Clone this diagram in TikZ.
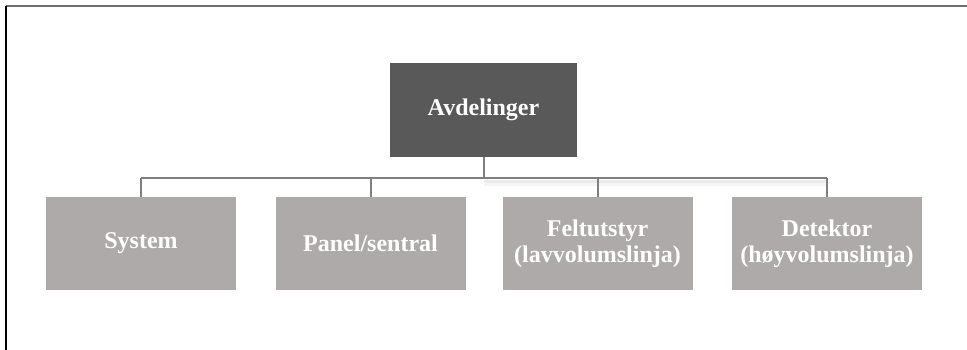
\documentclass[tikz,border=0pt]{standalone}
\usepackage{fontspec}
\setmainfont{Liberation Serif}
\definecolor{darkbox}{HTML}{595959}
\definecolor{lightbox}{HTML}{AEAAAA}
\definecolor{connc}{HTML}{7F7F7F}
\definecolor{framec}{HTML}{6E6E6E}
\begin{document}
\begin{tikzpicture}[x=1pt,y=-1pt,
  box/.style={rectangle, draw=none, inner sep=0pt, align=center,
    text=white, font=\fontsize{24}{26}\selectfont\bfseries},
  topbox/.style={box, fill=darkbox, minimum width=187pt, minimum height=94pt},
  subbox/.style={box, fill=lightbox, minimum width=190pt, minimum height=93pt},
  conn/.style={draw=connc, line width=2pt},
  shadowline/.style={line width=6pt, draw=black, opacity=0.04},
]
\useasboundingbox (0,0) rectangle (967,350);
\fill[white] (0,0) rectangle (967,350);
% frame
\draw[framec, line width=2pt] (6,6.5) -- (967,6.5);
\draw[black, line width=2pt] (6,6.5) -- (6,350);

\node[topbox] (top) at (483.5,110) {Avdelinger};
\node[subbox] (sys) at (141,243.5) {System};
\node[subbox] (pan) at (370.5,243.5) {Panel/sentral};
\node[subbox] (fel) at (597.5,243.5) {Feltutstyr\\(lavvolumslinja)};
\node[subbox] (det) at (827,243.5) {Detektor\\(høyvolumslinja)};
\coordinate (bus) at (483.5,178);

% soft shadow under the right part of the bus
\draw[shadowline] ([yshift=-5pt]top.south |- bus) -- ([yshift=-5pt]det.north |- bus);
\draw[shadowline, line width=3pt] ([yshift=-4pt]top.south |- bus) -- ([yshift=-4pt]det.north |- bus);

\draw[conn] (top.south) -- (top.south |- bus);
\draw[conn] (sys.north |- bus) -- (det.north |- bus);
\draw[conn] (sys.north) -- (sys.north |- bus);
\draw[conn] (pan.north) -- (pan.north |- bus);
\draw[conn] (fel.north) -- (fel.north |- bus);
\draw[conn] (det.north) -- (det.north |- bus);
\end{tikzpicture}
\end{document}
